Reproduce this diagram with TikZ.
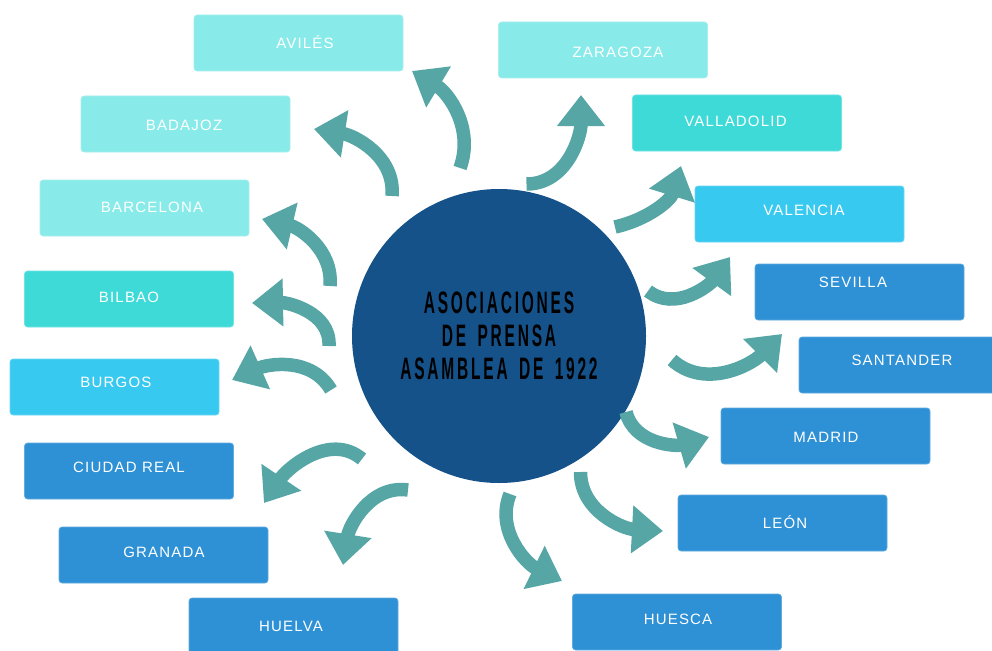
\documentclass[tikz,border=0pt]{standalone}
\usepackage{fontspec}
\setmainfont{Liberation Sans}
\newfontfamily\boxfont[LetterSpace=8]{Liberation Sans}
\newfontfamily\centerfont[FakeStretch=0.5,LetterSpace=9,WordSpace=1.6]{Liberation Sans}
\usetikzlibrary{arrows.meta}
\definecolor{lightc}{HTML}{88EBE9}
\definecolor{tealc}{HTML}{3EDAD7}
\definecolor{skyc}{HTML}{38C9F0}
\definecolor{bluec}{HTML}{2E90D5}
\definecolor{circc}{HTML}{15528A}
\definecolor{arrc}{HTML}{56A6A6}
\tikzset{
  cbox/.style={rectangle, rounded corners=3pt, minimum width=209pt, minimum height=56pt,
    inner sep=0pt, fill=#1, draw=#1!75!white, line width=0.6pt},
  lbl/.style={inner sep=0pt, text height=11pt, text depth=0pt, text=white,
    font=\boxfont\fontsize{15}{18}\selectfont},
  arr/.style={draw=arrc, line width=13.5pt, -{Triangle[length=31pt,width=46pt]}},
}
\begin{document}
\begin{tikzpicture}[x=1pt,y=-1pt]
\useasboundingbox (0,0) rectangle (992,650);
\clip (0,0) rectangle (992,650);
\fill[white] (0,0) rectangle (992,650);

% central circle
\node[circle, fill=circc, minimum size=294pt, inner sep=0pt] (hub) at (499,336) {};
\node[align=center, text=black, font=\centerfont\bfseries\fontsize{31}{33}\selectfont] (title) at (499,336)
  {ASOCIACIONES\\DE PRENSA\\ASAMBLEA DE 1922};

% boxes - left side
\node[cbox=lightc] (aviles) at (298.5,43) {};
\node[lbl] (aviles-t) at (305,43) {AVILÉS};
\node[cbox=lightc] (badajoz) at (185.5,124) {};
\node[lbl] (badajoz-t) at (184,125) {BADAJOZ};
\node[cbox=lightc] (barcelona) at (144.5,208) {};
\node[lbl] (barcelona-t) at (152,207) {BARCELONA};
\node[cbox=tealc] (bilbao) at (129,299) {};
\node[lbl] (bilbao-t) at (129,297) {BILBAO};
\node[cbox=skyc] (burgos) at (114.5,387) {};
\node[lbl] (burgos-t) at (116,382) {BURGOS};
\node[cbox=bluec] (creal) at (129,471) {};
\node[lbl] (creal-t) at (129,467) {CIUDAD REAL};
\node[cbox=bluec] (granada) at (163.5,555) {};
\node[lbl] (granada-t) at (164,552) {GRANADA};
\node[cbox=bluec] (huelva) at (293.5,626) {};
\node[lbl] (huelva-t) at (291,626) {HUELVA};

% boxes - right side
\node[cbox=lightc] (zaragoza) at (603,50) {};
\node[lbl] (zaragoza-t) at (618,52) {ZARAGOZA};
\node[cbox=tealc] (valladolid) at (737,123) {};
\node[lbl] (valladolid-t) at (735.5,121) {VALLADOLID};
\node[cbox=skyc] (valencia) at (799.5,214) {};
\node[lbl] (valencia-t) at (804,210) {VALENCIA};
\node[cbox=bluec] (sevilla) at (859.5,292) {};
\node[lbl] (sevilla-t) at (853,282) {SEVILLA};
\node[cbox=bluec] (santander) at (903.5,365) {};
\node[lbl] (santander-t) at (902,360) {SANTANDER};
\node[cbox=bluec] (madrid) at (825.5,436) {};
\node[lbl] (madrid-t) at (826,437) {MADRID};
\node[cbox=bluec] (leon) at (782.5,523) {};
\node[lbl] (leon-t) at (785,523) {LEÓN};
\node[cbox=bluec] (huesca) at (677,622) {};
\node[lbl] (huesca-t) at (678,619) {HUESCA};

% arrow end points
\coordinate (a1s) at (460,168);  \coordinate (a1e) at (412,71);
\coordinate (a2s) at (392,196);  \coordinate (a2e) at (314,129);
\coordinate (a3s) at (330,286);  \coordinate (a3e) at (262,219);
\coordinate (a4s) at (329,346);  \coordinate (a4e) at (252,303);
\coordinate (a5s) at (331,390);  \coordinate (a5e) at (232,380);
\coordinate (a6s) at (362,459);  \coordinate (a6e) at (264,503);
\coordinate (a7s) at (408,490);  \coordinate (a7e) at (343,565);
\coordinate (b1s) at (526.5,184); \coordinate (b1e) at (581,95);
\coordinate (b2s) at (615,227);  \coordinate (b2e) at (681,166);
\coordinate (b3s) at (648,291);  \coordinate (b3e) at (730,257);
\coordinate (b4s) at (672,360);  \coordinate (b4e) at (782,334);
\coordinate (b5s) at (626,412);  \coordinate (b5e) at (709,437);
\coordinate (b6s) at (580.5,472); \coordinate (b6e) at (663,531);
\coordinate (b7s) at (510,494);  \coordinate (b7e) at (562,581);

% arrows (angles are visual: y up)
\draw[arr] (a1s) to[out=70,in=-31] (a1e);
\draw[arr] (a2s) to[out=85,in=-9] (a2e);
\draw[arr] (a3s) to[out=85,in=-13] (a3e);
\draw[arr] (a4s) to[out=87,in=1] (a4e);
\draw[arr] (a5s) to[out=120,in=24] (a5e);
\draw[arr] (a6s) to[out=140,in=56] (a6e);
\draw[arr] (a7s) to[out=172,in=81] (a7e);
\draw[arr] (b1s) to[out=0,in=-90] (b1e);
\draw[arr] (b2s) to[out=13,in=-107] (b2e);
\draw[arr] (b3s) to[out=-38,in=-126] (b3e);
\draw[arr] (b4s) to[out=-42,in=-135] (b4e);
\draw[arr] (b5s) to[out=-76,in=-164] (b5e);
\draw[arr] (b6s) to[out=-90,in=-183] (b6e);
\draw[arr] (b7s) to[out=-112,in=-206] (b7e);
\end{tikzpicture}
\end{document}
